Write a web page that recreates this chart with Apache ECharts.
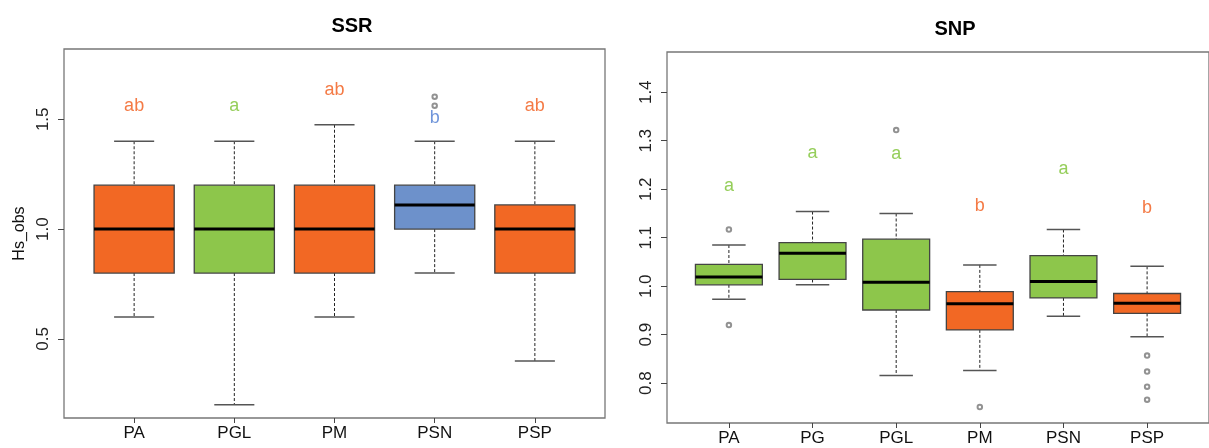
<!DOCTYPE html>
<html>
<head>
<meta charset="utf-8">
<script src="https://cdn.jsdelivr.net/npm/echarts@6/dist/echarts.min.js"></script>
<style>
  html, body { margin: 0; padding: 0; background: #fff; }
  #chart { width: 1209px; height: 448px; }
</style>
</head>
<body>
<div id="chart"></div>
<script>
// SSR panel
var ssrCats = ['PA', 'PGL', 'PM', 'PSN', 'PSP']
// [min, Q1, median, Q3, max]
var ssrStats = [
  [0.6, 0.8, 1.0, 1.2, 1.4],
  [0.2, 0.8, 1.0, 1.2, 1.4],
  [0.6, 0.8, 1.0, 1.2, 1.475],
  [0.8, 1.0, 1.11, 1.2, 1.4],
  [0.4, 0.8, 1.0, 1.11, 1.4],
]
var ssrGroup = ['o', 'g', 'o', 'b', 'o']
var ssrOutliers = [[4, 1.562], [4, 1.603]]
var ssrLetters = ['ab', 'a', 'ab', 'b', 'ab']
var ssrLetterY = [1.56, 1.56, 1.635, 1.505, 1.56]
var ssrTicks = [0.5, 1.0, 1.5]

// SNP panel
var snpCats = ['PA', 'PG', 'PGL', 'PM', 'PSN', 'PSP']
var snpStats = [
  [0.973, 1.003, 1.019, 1.045, 1.085],
  [1.003, 1.014, 1.068, 1.09, 1.154],
  [0.816, 0.951, 1.008, 1.097, 1.15],
  [0.826, 0.91, 0.964, 0.989, 1.044],
  [0.938, 0.976, 1.01, 1.063, 1.117],
  [0.896, 0.944, 0.965, 0.985, 1.041],
]
var snpGroup = ['g', 'g', 'g', 'o', 'g', 'o']
var snpOutliers = [
  [1, 1.117], [1, 0.92], [3, 1.322], [4, 0.751],
  [6, 0.857], [6, 0.824], [6, 0.793], [6, 0.766],
]
var snpLetters = ['a', 'a', 'a', 'b', 'a', 'b']
var snpLetterY = [1.206, 1.275, 1.272, 1.166, 1.241, 1.161]
var snpTicks = [0.8, 0.9, 1.0, 1.1, 1.2, 1.3, 1.4]

var boxFill = { o: '#F26824', g: '#8DC64B', b: '#6D91CB' }
var letterFill = { o: '#F47A45', g: '#95CE5A', b: '#7095DA' }
var font = 'Liberation Sans, Arial, sans-serif'

function renderBox(params, api) {
  var x = api.value(0)
  var lo = api.coord([x, api.value(1)])
  var q1 = api.coord([x, api.value(2)])
  var md = api.coord([x, api.value(3)])
  var q3 = api.coord([x, api.value(4)])
  var hi = api.coord([x, api.value(5)])
  var w = api.size([0.8, 0])[0]
  var cx = lo[0]
  var dash = { stroke: '#222', lineWidth: 1, lineDash: [3, 2] }
  var cap = { stroke: '#555', lineWidth: 1.5 }
  return {
    type: 'group',
    children: [
      { type: 'line', shape: { x1: cx, y1: hi[1], x2: cx, y2: q3[1] }, style: dash },
      { type: 'line', shape: { x1: cx, y1: q1[1], x2: cx, y2: lo[1] }, style: dash },
      { type: 'line', shape: { x1: cx - w / 4, y1: hi[1], x2: cx + w / 4, y2: hi[1] }, style: cap },
      { type: 'line', shape: { x1: cx - w / 4, y1: lo[1], x2: cx + w / 4, y2: lo[1] }, style: cap },
      {
        type: 'rect',
        shape: { x: cx - w / 2, y: q3[1], width: w, height: q1[1] - q3[1] },
        style: { fill: api.visual('color'), stroke: '#444', lineWidth: 1.3 },
      },
      { type: 'line', shape: { x1: cx - w / 2, y1: md[1], x2: cx + w / 2, y2: md[1] }, style: { stroke: '#000', lineWidth: 3 } },
    ],
  }
}

function renderLetter(params, api) {
  var p = api.coord([api.value(0), api.value(1)])
  return {
    type: 'text',
    x: p[0],
    y: p[1],
    style: {
      text: api.value(2),
      fill: api.visual('color'),
      fontSize: 18,
      fontFamily: font,
      align: 'center',
      verticalAlign: 'middle',
    },
  }
}

function boxData(stats, group) {
  return stats.map(function (s, i) {
    return { value: [i + 1].concat(s), itemStyle: { color: boxFill[group[i]] } }
  })
}
function letterData(letters, ys, group) {
  return letters.map(function (t, i) {
    return { value: [i + 1, ys[i], t], itemStyle: { color: letterFill[group[i]] } }
  })
}
function seq(n) {
  var a = []
  for (var i = 1; i <= n; i++) a.push(i)
  return a
}

function xAxis(idx, cats, min, max) {
  return {
    type: 'value', gridIndex: idx, min: min, max: max,
    splitLine: { show: false },
    axisLine: { show: false },
    axisTick: { show: true, length: 5, customValues: seq(cats.length), lineStyle: { color: '#444' } },
    axisLabel: {
      customValues: seq(cats.length), margin: 7, fontSize: 17, fontFamily: font, color: '#111',
      formatter: function (v) { return cats[Math.round(v) - 1] },
    },
  }
}
function yAxis(idx, ticks, min, max, name) {
  return {
    type: 'value', gridIndex: idx, min: min, max: max,
    name: name, nameLocation: 'middle', nameGap: 36,
    nameTextStyle: { fontSize: 16, fontFamily: font, color: '#111' },
    splitLine: { show: false },
    axisLine: { show: false },
    axisTick: { show: true, length: 6, customValues: ticks, lineStyle: { color: '#444' } },
    axisLabel: {
      customValues: ticks, rotate: 90, margin: 12, fontSize: 17, fontFamily: font, color: '#222',
      formatter: function (v) { return v.toFixed(1) },
    },
  }
}

var myChart = echarts.init(document.getElementById('chart'))
var option = {
  animation: false,
  title: [
    { text: 'SSR', left: 347, top: 11, textAlign: 'center', textStyle: { fontSize: 20, fontWeight: 'bold', fontFamily: font, color: '#000' } },
    { text: 'SNP', left: 950, top: 14, textAlign: 'center', textStyle: { fontSize: 20, fontWeight: 'bold', fontFamily: font, color: '#000' } },
  ],
  grid: [
    { left: 64, right: 604, top: 49, bottom: 30, show: true, borderColor: '#777', borderWidth: 1.3 },
    { left: 667, right: 0, top: 52, bottom: 25, show: true, borderColor: '#777', borderWidth: 1.3 },
  ],
  xAxis: [xAxis(0, ssrCats, 0.3, 5.7), xAxis(1, snpCats, 0.26, 6.74)],
  yAxis: [yAxis(0, ssrTicks, 0.14, 1.82, 'Hs_obs'), yAxis(1, snpTicks, 0.718, 1.483, '')],
  series: [
    { type: 'custom', xAxisIndex: 0, yAxisIndex: 0, renderItem: renderBox, data: boxData(ssrStats, ssrGroup) },
    { type: 'custom', xAxisIndex: 1, yAxisIndex: 1, renderItem: renderBox, data: boxData(snpStats, snpGroup) },
    {
      type: 'scatter', xAxisIndex: 0, yAxisIndex: 0, symbol: 'emptyCircle', symbolSize: 4.5,
      itemStyle: { color: '#777', borderWidth: 1 }, data: ssrOutliers,
    },
    {
      type: 'scatter', xAxisIndex: 1, yAxisIndex: 1, symbol: 'emptyCircle', symbolSize: 4.5,
      itemStyle: { color: '#777', borderWidth: 1 }, data: snpOutliers,
    },
    { type: 'custom', xAxisIndex: 0, yAxisIndex: 0, renderItem: renderLetter, data: letterData(ssrLetters, ssrLetterY, ssrGroup) },
    { type: 'custom', xAxisIndex: 1, yAxisIndex: 1, renderItem: renderLetter, data: letterData(snpLetters, snpLetterY, snpGroup) },
  ],
}
myChart.setOption(option)
</script>
</body>
</html>
